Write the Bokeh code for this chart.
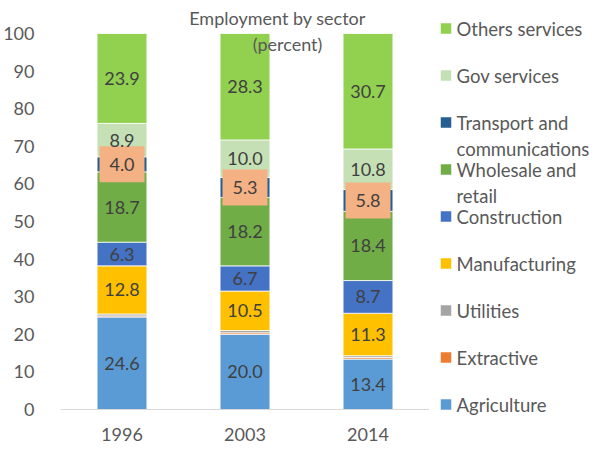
from bokeh.plotting import figure
from bokeh.models import ColumnDataSource, FixedTicker, Range1d, FactorRange
from bokeh.layouts import row, column
from bokeh.embed import file_html
from bokeh.resources import INLINE
from bokeh.core.properties import value

years = ["1996", "2003", "2014"]
sectors = ["Agriculture", "Extractive", "Utilities", "Manufacturing", "Construction",
           "Wholesale and retail", "Transport and communications", "Gov services", "Others services"]
agriculture = [24.6, 20.0, 13.4]
extractive = [0.3, 0.4, 0.4]
utilities = [0.5, 0.6, 0.5]
manufacturing = [12.8, 10.5, 11.3]
construction = [6.3, 6.7, 8.7]
wholesale = [18.7, 18.2, 18.4]
transport = [4.0, 5.3, 5.8]
gov = [8.9, 10.0, 10.8]
others = [23.9, 28.3, 30.7]
series = [agriculture, extractive, utilities, manufacturing, construction,
          wholesale, transport, gov, others]
colors = ["#5B9BD5", "#ED7D31", "#A5A5A5", "#FFC000", "#4472C4",
          "#70AD47", "#255E91", "#C5E0B4", "#92D050"]
labelled = [True, False, False, True, True, True, True, True, True]
y_ticks = list(range(0, 101, 10))

FONT = "Lato"
TXT = "#404040"
AX = "#595959"

data = {"year": years}
for s, v in zip(sectors, series):
    data[s] = v
src = ColumnDataSource(data)

p = figure(x_range=FactorRange(*years), y_range=Range1d(0, 401 / 3.76),
           frame_width=369, frame_height=401, output_backend="svg",
           toolbar_location=None, min_border_left=52, min_border_right=0,
           min_border_top=8, min_border_bottom=0)
p.outline_line_color = None
p.xgrid.visible = False
p.ygrid.visible = False

p.vbar_stack(sectors, x="year", width=0.405, color=colors, source=src,
             line_color="white", line_width=0.75)

# data labels
lx, ly, lt = [], [], []
tx, ty = [], []
for i, yr in enumerate(years):
    cum = 0.0
    for k, (s, v) in enumerate(zip(sectors, series)):
        mid = cum + v[i] / 2
        if labelled[k]:
            lx.append(yr)
            ly.append(mid)
            lt.append(f"{v[i]:.1f}")
        if s == "Transport and communications":
            tx.append(yr)
            ty.append(mid)
        cum += v[i]

p.rect(x=tx, y=ty, width=45, height=36, width_units="screen", height_units="screen",
       fill_color="#F4B183", line_color=None)
p.text(x=lx, y=ly, text=lt, text_align="center", text_baseline="middle",
       text_font=value(FONT), text_font_size="18px", text_color=TXT)

# chart title
p.text(x=[1.764], y=[104.2], text=["Employment by sector"], text_align="center",
       text_baseline="middle", text_font=value(FONT), text_font_size="18px", text_color=AX)
p.text(x=[1.846], y=[97.3], text=["(percent)"], text_align="center",
       text_baseline="middle", text_font=value(FONT), text_font_size="18px", text_color=AX)

p.yaxis.ticker = FixedTicker(ticks=y_ticks)
p.yaxis.axis_line_color = None
p.yaxis.major_tick_line_color = None
p.yaxis.minor_tick_line_color = None
p.yaxis.major_label_standoff = 20
p.yaxis.major_label_text_font = FONT
p.yaxis.major_label_text_font_size = "18px"
p.yaxis.major_label_text_color = AX

p.xaxis.axis_line_color = "#D9D9D9"
p.xaxis.axis_line_width = 1
p.xaxis.major_tick_line_color = None
p.xaxis.minor_tick_line_color = None
p.xaxis.major_label_standoff = 12
p.xaxis.major_label_text_font = FONT
p.xaxis.major_label_text_font_size = "18px"
p.xaxis.major_label_text_color = AX

# legend panel
lg = figure(frame_width=162, frame_height=433, x_range=Range1d(429, 591), y_range=Range1d(433, 0),
            output_backend="svg", toolbar_location=None, min_border=0)
lg.axis.visible = False
lg.grid.visible = False
lg.outline_line_color = None

leg_names = list(reversed(sectors))
leg_colors = list(reversed(colors))
sx, sy, tx1, ty1, tt = [], [], [], [], []
for i, name in enumerate(leg_names):
    yslot = 28 + 47 * i
    sx.append(445.5)
    sy.append(yslot)
    words = name.split(" and ")
    if len(words) == 2:
        lines = [words[0] + " and", words[1]]
    else:
        lines = [name]
    for j, ln in enumerate(lines):
        tx1.append(456)
        ty1.append(yslot + 26 * j)
        tt.append(ln)
lg.rect(x=sx, y=sy, width=10.5, height=10.5, width_units="screen", height_units="screen",
        fill_color=leg_colors, line_color=None)
lg.text(x=tx1, y=ty1, text=tt, text_align="left", text_baseline="middle",
        text_font=value(FONT), text_font_size="18.5px", text_color=AX)

layout = row(p, column(lg), spacing=0)
open("out.html", "w").write(file_html(layout, INLINE))
